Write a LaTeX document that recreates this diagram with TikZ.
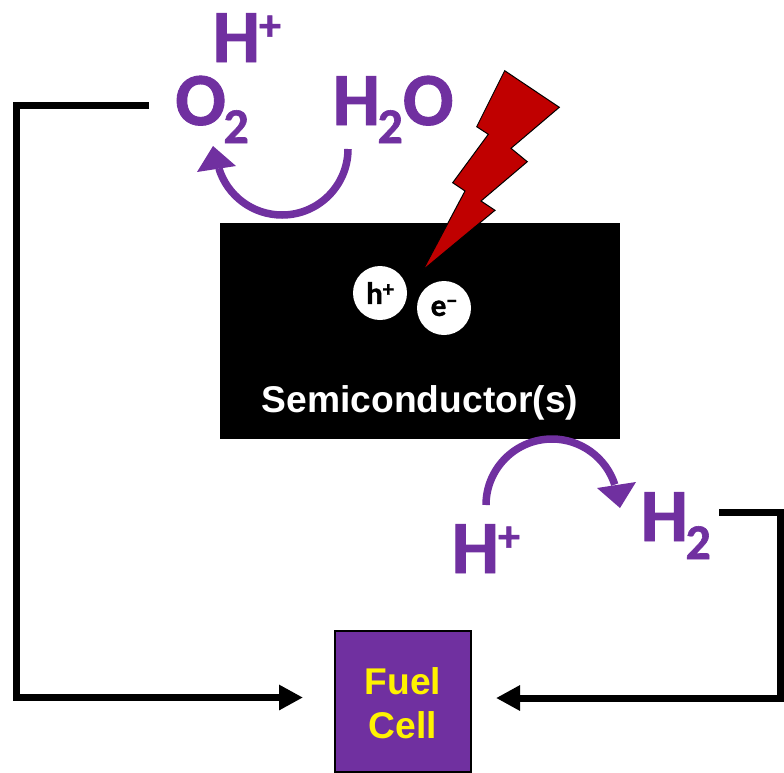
\documentclass[tikz,border=0pt]{standalone}
\usepackage{fontspec}
\setmainfont{Liberation Sans}
\newfontfamily\chemfont{Carlito Bold}[FakeBold=1.2]
\usetikzlibrary{arrows.meta}
\definecolor{chempurple}{HTML}{7030A0}
\definecolor{boltred}{HTML}{C00000}
\newcommand{\bigfs}{\fontsize{75}{75}\selectfont}
\newcommand{\smallfs}{\fontsize{50}{50}\selectfont}
\newcommand{\chemsup}[1]{\kern-1pt\raisebox{22pt}{\fontsize{44}{44}\selectfont #1}}
\newcommand{\chemsub}[1]{\kern-2.5pt\raisebox{-18pt}{\smallfs #1}}
\tikzset{
  chem/.style={anchor=base west,inner sep=0pt,text=chempurple,font=\chemfont\bigfs},
  wire/.style={draw=black,line width=7pt,line join=miter,-{Triangle[length=24pt,width=24pt]}},
  hop/.style={draw=chempurple,line width=7.5pt},
  hophead/.style={fill=chempurple,draw=none},
  carrier/.style={circle,fill=white,draw=none,minimum size=54pt,inner sep=0pt,font=\chemfont\fontsize{31}{31}\selectfont},
  blocklabel/.style={inner sep=0pt,font=\bfseries\fontsize{37.2}{37.2}\selectfont},
}
\begin{document}
\begin{tikzpicture}[x=1pt,y=1pt,yscale=-1]
\useasboundingbox (0,0) rectangle (784,772);
% semiconductor block
\node[fill=black,minimum width=400pt,minimum height=216pt,inner sep=0pt,draw=none] (semi) at (420,331) {};
\node[blocklabel,text=white] (semilabel) at (420,402.5) {Semiconductor(s)};
% lightning bolt
\filldraw[fill=boltred,draw=black,line width=1pt,line join=miter]
  (504.7,70.7) -- (559.3,107.3) -- (511,148.3) -- (527.3,161.7) -- (481,201) -- (495,210.3)
  -- (423,270) -- (465,191) -- (452.7,182.7) -- (488.3,134.3) -- (476.7,126.7) -- cycle;
% carriers
\node[carrier] (hole) at (380,293) {h\raisebox{7.5pt}{\fontsize{22}{22}\selectfont +}};
\node[carrier] (electron) at (444,308) {e\raisebox{8pt}{\fontsize{22}{22}\selectfont −}};
% species
\node[chem] (hplustop) at (212.5,62) {H\chemsup{+}};
\node[chem] (otwo) at (175,125) {O\chemsub{2}};
\node[chem] (water) at (332.5,125) {H\chemsub{2}O};
\node[chem] (hplusbot) at (451.5,573) {H\chemsup{+}};
\node[chem] (htwo) at (640.5,541) {H\chemsub{2}};
% fuel cell
\node[fill=chempurple,draw=black,line width=2pt,minimum width=136pt,minimum height=141pt,inner sep=0pt] (fuel) at (403,701.5) {};
\node[blocklabel,text=yellow,align=center] (fuellabel) at (403,703.5) {Fuel\\[7pt]Cell};
% purple arcs
\coordinate (waterfoot) at (348,149);
\draw[hop] (waterfoot) arc[start angle=0,end angle=163,radius=66pt];
\fill[hophead] (213,146) -- (197,172) -- (236,166) -- cycle;
\coordinate (hplusfoot) at (486,505);
\draw[hop] (hplusfoot) arc[start angle=180,end angle=342,radius=66pt];
\fill[hophead] (636,482) -- (597,488) -- (620,508) -- cycle;
% wires
\coordinate (otwoend) at (149,105);
\coordinate (htwoend) at (719,512);
\coordinate (fuelinl) at (303,697.5);
\coordinate (fuelinr) at (496,698);
\draw[wire] (otwoend) -- (16,105) -- (16,697.5) -- (fuelinl);
\draw[wire] (htwoend) -- (780.5,512) -- (780.5,698) -- (fuelinr);
\end{tikzpicture}
\end{document}
